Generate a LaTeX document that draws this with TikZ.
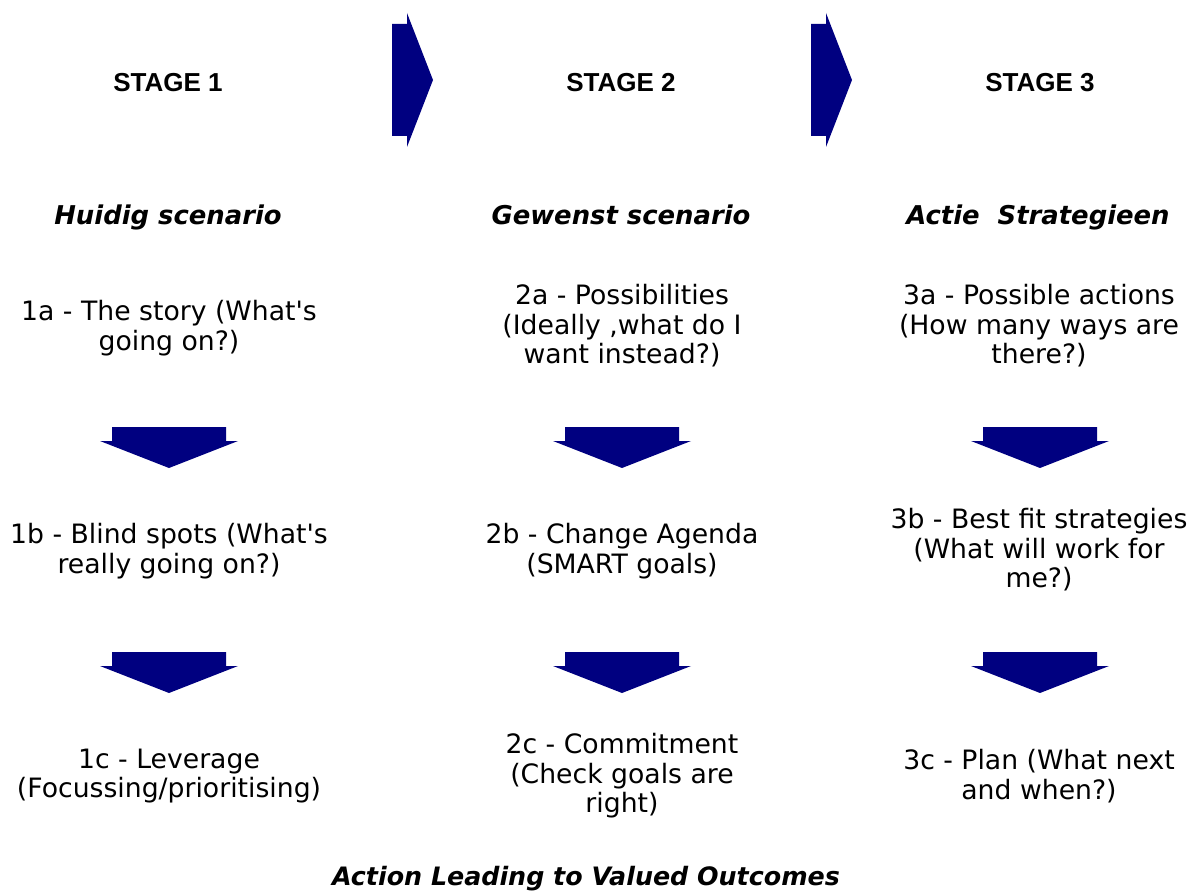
\documentclass[tikz,border=0pt]{standalone}
\usepackage{fontspec}
\setmainfont{DejaVu Sans}
\newfontfamily\stagefont{Liberation Sans}
\usepackage{tikz}
\definecolor{arrowblue}{RGB}{0,0,128}
\tikzset{txt/.style = {align = center, inner sep = 0, font = \fontsize{20}{22.1}\selectfont}}
\tikzset{stagelbl/.style = {inner sep = 0, anchor = base, font = \stagefont\bfseries\fontsize{19.5}{22}\selectfont}}
\tikzset{ttl/.style = {inner sep = 0, anchor = base, font = \bfseries\itshape\fontsize{19.4}{22}\selectfont}}
\tikzset{arr/.style = {fill = arrowblue, draw = none}}
\newcommand{\apos}{\textquotesingle}

\begin{document}
\begin{tikzpicture}[x = 0.75pt, y = -0.75pt]
      \useasboundingbox (0, 0) rectangle (1200, 891);
      % stages
      \node [stagelbl] (stage1) at (168, 92) {STAGE 1};
      \node [stagelbl] (stage2) at (621, 92) {STAGE 2};
      \node [stagelbl] (stage3) at (1040, 92) {STAGE 3};
      \node [ttl] (title1) at (168, 225) {Huidig scenario};
      \node [ttl] (title2) at (621, 225) {Gewenst scenario};
      \node [ttl] (title3) at (1038, 225) {Actie\ \ Strategieen};
      % steps
      \node [txt] (step1a) at (169, 328) {1a - The story (What\apos s\\going on?)};
      \node [txt] (step2a) at (622, 326) {2a - Possibilities\\(Ideally ,what do I\\want instead?)};
      \node [txt] (step3a) at (1039, 326) {3a - Possible actions\\(How many ways are\\there?)};
      \node [txt] (step1b) at (169, 551) {1b - Blind spots (What\apos s\\really going on?)};
      \node [txt] (step2b) at (622, 551) {2b - Change Agenda\\(SMART goals)};
      \node [txt] (step3b) at (1039, 550) {3b - Best fit strategies\\(What will work for\\me?)};
      \node [txt] (step1c) at (169, 776) {1c - Leverage\\(Focussing/prioritising)};
      \node [txt] (step2c) at (622, 776) {2c - Commitment\\(Check goals are\\right)};
      \node [txt] (step3c) at (1039, 776) {3c - Plan (What next\\and when?)};
      \node [ttl, font = \bfseries\itshape\fontsize{19}{22}\selectfont] (outcome) at (586, 885) {Action Leading to Valued Outcomes};
      % arrows
      \foreach \x in {392, 811} {
        \fill [arr] (\x, 24) -- (\x + 15, 24) -- (\x + 15, 13) -- (\x + 41, 80)
          -- (\x + 15, 147) -- (\x + 15, 136) -- (\x, 136) -- cycle;
      }
      \foreach \c in {169, 622, 1040} {
        \foreach \t in {427, 652} {
          \fill [arr] (\c - 57, \t) -- (\c + 57, \t) -- (\c + 57, \t + 14) -- (\c + 69, \t + 14)
            -- (\c, \t + 41) -- (\c - 69, \t + 14) -- (\c - 57, \t + 14) -- cycle;
        }
      }
    \end{tikzpicture}
\end{document}
